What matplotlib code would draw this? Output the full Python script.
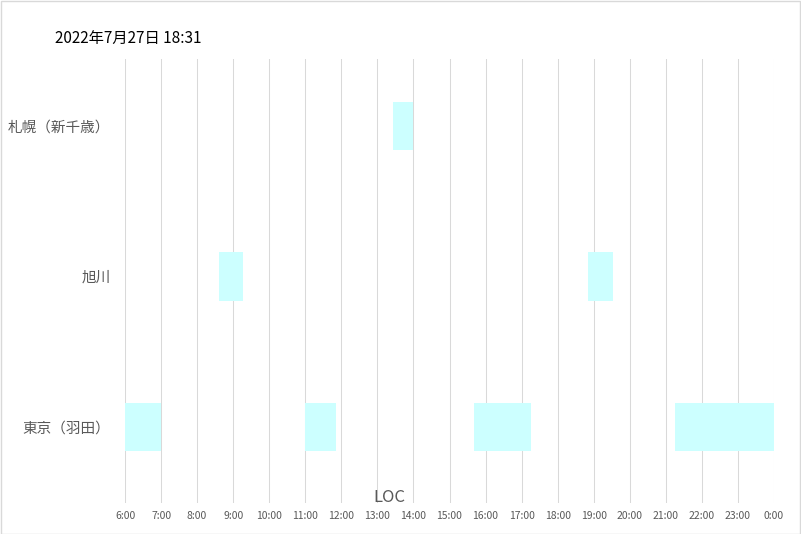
import matplotlib
matplotlib.use("Agg")
import matplotlib.pyplot as plt
from matplotlib.patches import Rectangle

plt.rcParams['font.family'] = ['Noto Sans CJK JP', 'DejaVu Sans']

# Data
airports = ['東京（羽田）', '旭川', '札幌（新千歳）']
bar_airport = ['札幌（新千歳）', '旭川', '旭川', '東京（羽田）', '東京（羽田）', '東京（羽田）', '東京（羽田）']
bar_start = ['13:26', '8:36', '18:50', '6:00', '11:00', '15:40', '21:16']
bar_end = ['14:00', '9:16', '19:32', '7:00', '11:51', '17:15', '24:00']
hour_ticks = list(range(6, 25))
hour_labels = [f"{h % 24}:00" for h in hour_ticks]
title_text = '2022年7月27日 18:31'
axis_title = 'LOC'


def to_h(s):
    h, m = s.split(':')
    return int(h) + int(m) / 60.0


W, H = 801, 534
fig = plt.figure(figsize=(W / 100, H / 100), dpi=100)
fig.patch.set_facecolor('white')
# figure border
fig.patches.append(Rectangle((0.5 / W, 0.5 / H), 1 - 1.5 / W, 1 - 1.5 / H,
                             transform=fig.transFigure, fill=False,
                             edgecolor='#D9D9D9', linewidth=1))

left, right, top, bottom = 125, 774, 59, 503
ax = fig.add_axes([left / W, 1 - bottom / H, (right - left) / W, (bottom - top) / H])

ypos = {a: i for i, a in enumerate(airports)}
bh = 0.32
for a, s, e in zip(bar_airport, bar_start, bar_end):
    s_h, e_h = to_h(s), to_h(e)
    ax.barh(ypos[a], e_h - s_h, left=s_h, height=bh, color='#CCFFFF', zorder=3)

ax.set_xlim(6, 24)
ax.set_ylim(-0.505, 2.445)
ax.set_xticks(hour_ticks)
ax.set_xticklabels(hour_labels, fontsize=7.5, color='#595959')
ax.set_yticks(range(len(airports)))
ax.set_yticklabels(airports, fontsize=10.5, color='#595959')
ax.tick_params(axis='both', length=0)
ax.tick_params(axis='x', pad=6)
ax.tick_params(axis='y', pad=10.5)
ax.grid(axis='x', color='#D9D9D9', linewidth=0.75, zorder=0)
ax.set_axisbelow(True)
for sp in ax.spines.values():
    sp.set_visible(False)

fig.text(55 / W, 1 - 38 / H, title_text, fontsize=11, color='black',
         ha='left', va='center')
fig.text(389 / W, 1 - 498 / H, axis_title, fontsize=12, color='#595959',
         ha='center', va='center')

fig.savefig('out.png', dpi=100)
